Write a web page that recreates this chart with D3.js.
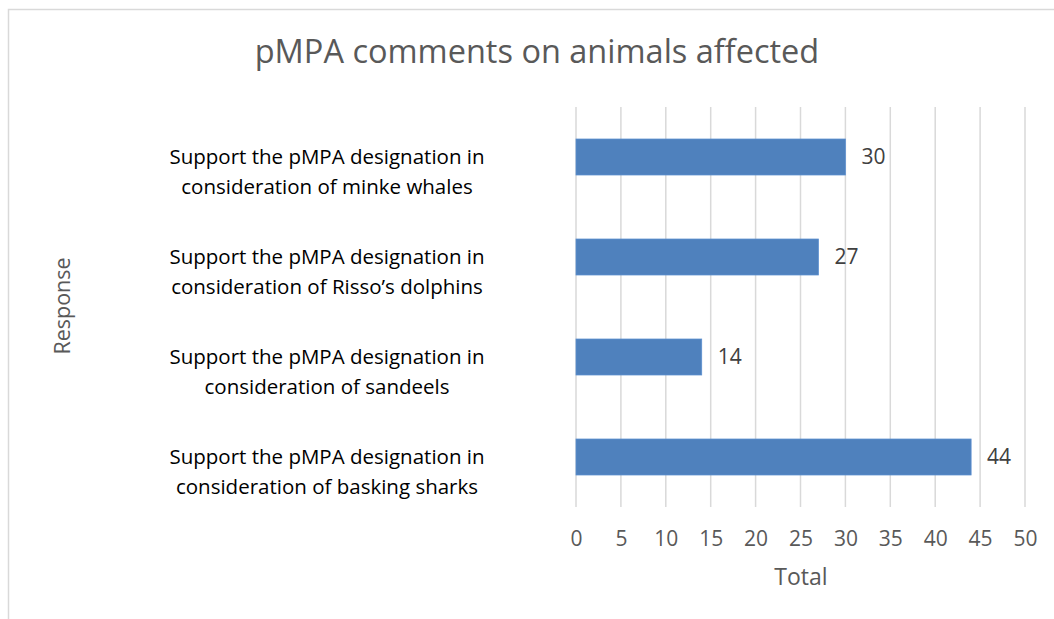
<!DOCTYPE html>
<html>
<head>
<meta charset="utf-8">
<script src="https://cdn.jsdelivr.net/npm/d3@7"></script>
<style>
  body { margin: 0; background: #fff; }
  text { font-family: "Open Sans", sans-serif; }
</style>
</head>
<body>
<svg id="chart" width="1054" height="619"></svg>
<script>
var categories = [
  ["Support the pMPA designation in", "consideration of minke whales"],
  ["Support the pMPA designation in", "consideration of Risso\u2019s dolphins"],
  ["Support the pMPA designation in", "consideration of sandeels"],
  ["Support the pMPA designation in", "consideration of basking sharks"]
];
var totals = [30, 27, 14, 44];
var xTicks = [0, 5, 10, 15, 20, 25, 30, 35, 40, 45, 50];

var svg = d3.select("#chart");

// chart border (only top and left visible in the crop)
svg.append("rect")
    .attr("x", 8.5)
    .attr("y", 9.5)
    .attr("width", 1100)
    .attr("height", 700)
    .attr("fill", "none")
    .attr("stroke", "#d9d9d9")
    .attr("stroke-width", 1.5);

var x = d3.scaleLinear()
            .domain([0, 50])
            .range([576, 1025]);

var y = d3.scaleBand()
            .domain(d3.range(categories.length))
            .range([107, 507])
            .paddingInner(0.64)
            .paddingOuter(0.32);

// gridlines
svg.append("g")
    .selectAll("line")
    .data(xTicks)
    .enter()
    .append("line")
      .attr("x1", d => x(d))
      .attr("x2", d => x(d))
      .attr("y1", 107)
      .attr("y2", 507)
      .attr("stroke", "#d9d9d9")
      .attr("stroke-width", 1.5);

// x axis labels
var xAxis = svg.append("g")
    .attr("transform", "translate(0,507)")
    .call(d3.axisBottom(x).tickValues(xTicks).tickSize(0).tickPadding(24));
xAxis.select(".domain").remove();
xAxis.selectAll("text")
    .attr("fill", "#595959")
    .style("font-size", "21px");

// bars
svg.append("g")
    .selectAll("rect")
    .data(totals)
    .enter()
    .append("rect")
      .attr("x", x(0))
      .attr("y", (d, i) => y(i))
      .attr("width", d => x(d) - x(0))
      .attr("height", y.bandwidth())
      .attr("fill", "#4f81bd")
      .attr("stroke", "#5b8fd0")
      .attr("stroke-width", 0.75);

// value labels
svg.append("g")
    .selectAll("text")
    .data(totals)
    .enter()
    .append("text")
      .attr("x", d => x(d) + 16)
      .attr("y", (d, i) => y(i) + y.bandwidth() / 2)
      .attr("dy", "0.35em")
      .attr("fill", "#404040")
      .style("font-size", "21px")
      .text(d => d);

// category labels
var cat = svg.append("g")
    .selectAll("text")
    .data(categories)
    .enter()
    .append("text")
      .attr("text-anchor", "middle")
      .attr("fill", "#000")
      .style("font-size", "20.5px");

cat.selectAll("tspan")
    .data((d, i) => d.map(t => ({ t: t, i: i })))
    .enter()
    .append("tspan")
      .attr("x", 327)
      .attr("y", (d, j) => y(d.i) + y.bandwidth() / 2 + j * 30)
      .attr("dy", "0.35em")
      .text(d => d.t);

// title
svg.append("text")
    .attr("x", 537)
    .attr("y", 52)
    .attr("dy", "0.35em")
    .attr("text-anchor", "middle")
    .attr("fill", "#595959")
    .style("font-size", "32.5px")
    .text("pMPA comments on animals affected");

// axis titles
svg.append("text")
    .attr("x", 801)
    .attr("y", 577)
    .attr("dy", "0.35em")
    .attr("text-anchor", "middle")
    .attr("fill", "#595959")
    .style("font-size", "23px")
    .text("Total");

svg.append("text")
    .attr("transform", "translate(62,306) rotate(-90)")
    .attr("dy", "0.35em")
    .attr("text-anchor", "middle")
    .attr("fill", "#595959")
    .style("font-size", "21.5px")
    .text("Response");
</script>
</body>
</html>
